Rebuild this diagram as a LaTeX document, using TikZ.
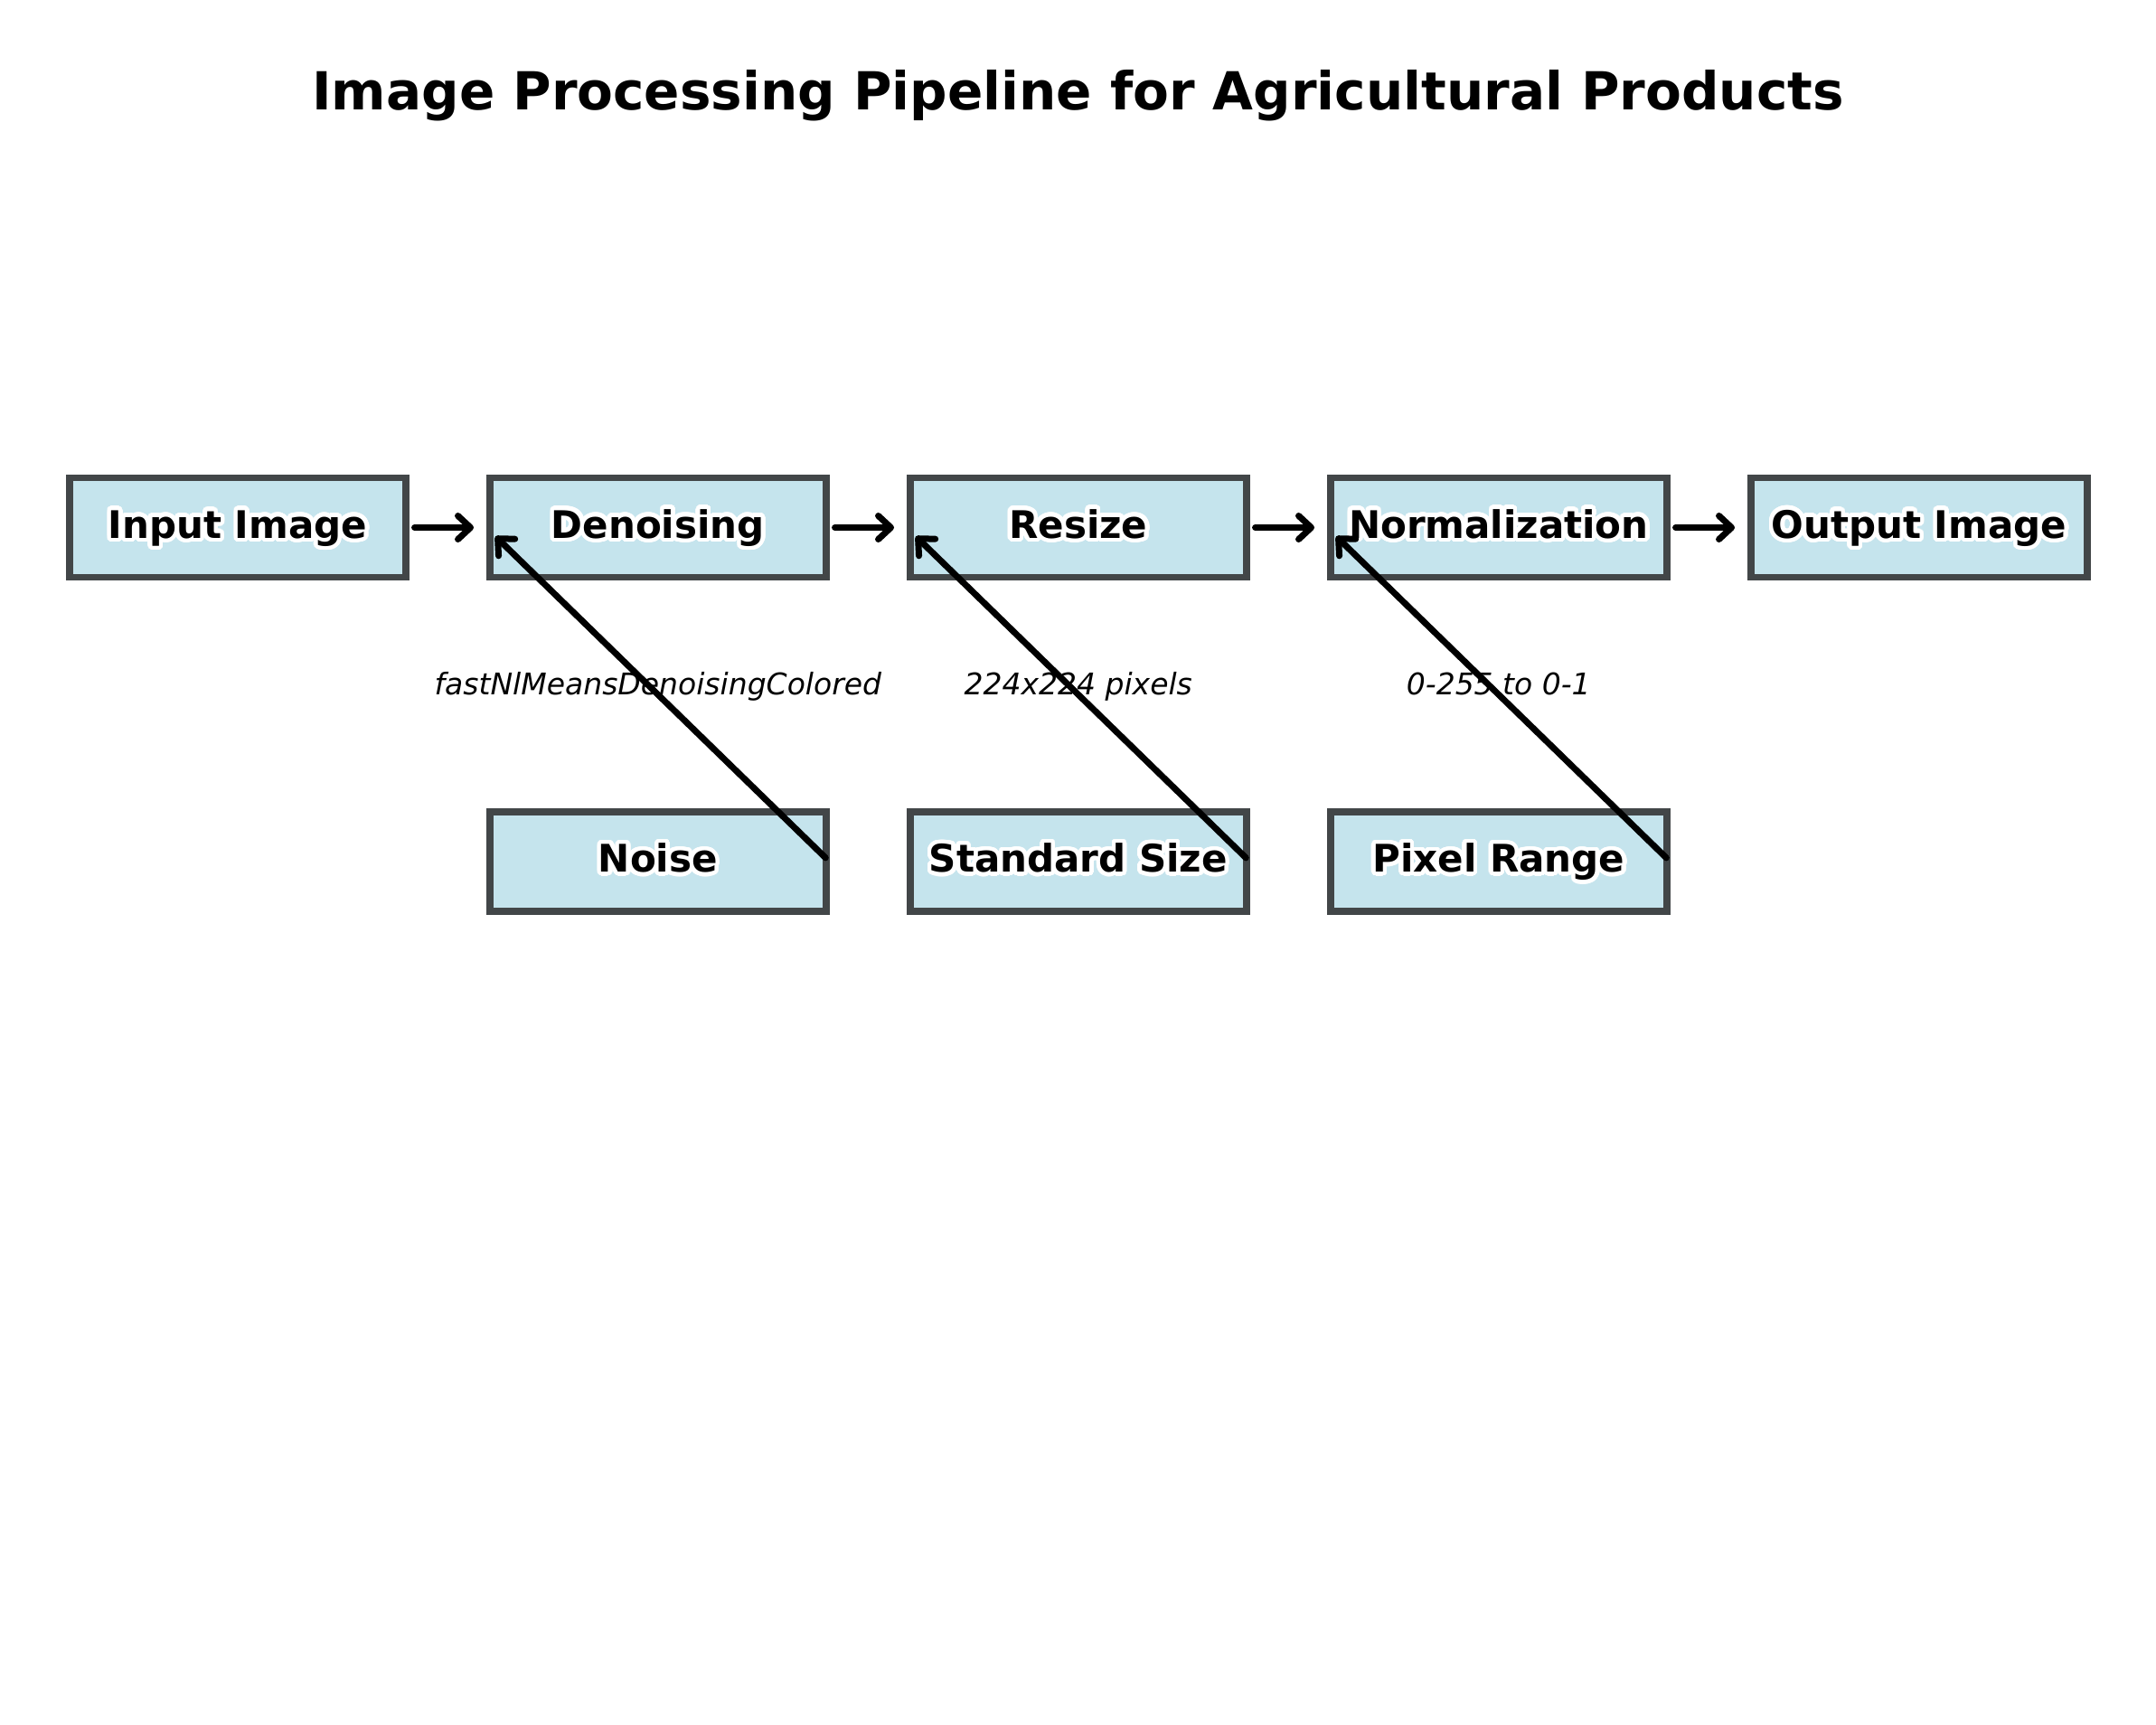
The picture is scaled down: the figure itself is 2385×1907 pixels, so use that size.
\documentclass[tikz,border=0pt]{standalone}
\usepackage{fontspec}
\setmainfont{DejaVu Sans}
\usepackage{contour}
\contourlength{4.5pt}
\contournumber{40}
\usetikzlibrary{arrows.meta}
\definecolor{boxfill}{RGB}{197,228,237}
\definecolor{boxedge}{RGB}{66,70,72}
\begin{document}
\begin{tikzpicture}[x=1pt,y=-1pt,
 procbox/.style={draw=boxedge, fill=boxfill, line width=7.5pt, minimum width=372pt, minimum height=110pt, inner sep=0pt, text height=31pt, text depth=8pt, font=\fontsize{42}{50}\selectfont\bfseries},
 flow/.style={line width=7pt, line cap=round, line join=round, -{Straight Barb[length=14pt,width=26pt,round]}, shorten <=6pt, shorten >=14pt},
 lbl/.style={anchor=base, inner sep=0pt, font=\fontsize{33}{40}\selectfont\itshape}]
\useasboundingbox (0,0) rectangle (2385,1907);
\node[anchor=base, inner sep=0pt, font=\fontsize{58}{70}\selectfont\bfseries] (title) at (1192.5,121.7) {Image Processing Pipeline for Agricultural Products};
\node[procbox] (input) at (262.8,583.5) {\contour{white}{Input Image}};
\node[procbox] (denoise) at (727.8,583.5) {\contour{white}{Denoising}};
\node[procbox] (resize) at (1192.8,583.5) {\contour{white}{Resize}};
\node[procbox] (norm) at (1657.8,583.5) {\contour{white}{Normalization}};
\node[procbox] (output) at (2122.8,583.5) {\contour{white}{Output Image}};
\node[procbox] (noise) at (727.8,953) {\contour{white}{Noise}};
\node[procbox] (size) at (1192.8,953) {\contour{white}{Standard Size}};
\node[procbox] (range) at (1657.8,953) {\contour{white}{Pixel Range}};
\node[lbl] (l1) at (727.8,768) {fastNlMeansDenoisingColored};
\node[lbl] (l2) at (1192.8,768) {224x224 pixels};
\node[lbl] (l3) at (1657.8,768) {0-255 to 0-1};
\draw[flow] (input) -- (denoise);
\draw[flow] (denoise) -- (resize);
\draw[flow] (resize) -- (norm);
\draw[flow] (norm) -- (output);
\draw[flow] (noise.east) -- (denoise.west);
\draw[flow] (size.east) -- (resize.west);
\draw[flow] (range.east) -- (norm.west);
\end{tikzpicture}
\end{document}
